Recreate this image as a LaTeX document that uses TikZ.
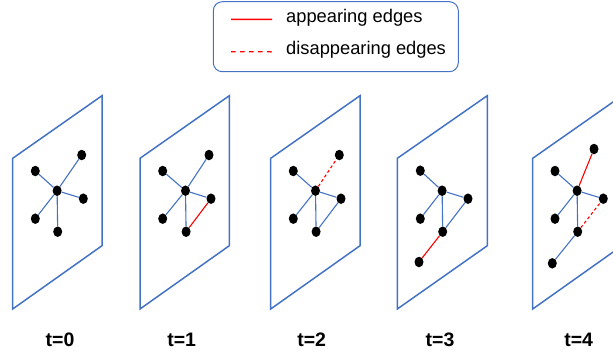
\documentclass[tikz,border=0pt]{standalone}
\usepackage{fontspec}
\setmainfont{Liberation Sans}
\usetikzlibrary{shapes.geometric}
\definecolor{pblue}{HTML}{4472C4}
\definecolor{ered}{HTML}{FF0000}
\tikzset{
  plane/.style={draw=pblue, line width=1.5pt, line join=miter},
  vtx/.style={ellipse, fill=black, inner sep=0pt, minimum width=9pt, minimum height=10.5pt},
  bedge/.style={draw=pblue, line width=1.1pt},
  redge/.style={draw=ered, line width=1.1pt},
  dedge/.style={draw=ered, line width=1.1pt, dash pattern=on 3pt off 2.5pt},
  legline/.style={draw=ered, line width=1.4pt},
  legdash/.style={draw=ered, line width=1.4pt, dash pattern=on 4.5pt off 4.5pt},
  tlabel/.style={font=\bfseries\fontsize{19.5}{22}\selectfont, inner sep=0pt},
  legtext/.style={font=\fontsize{18.3}{21}\selectfont, anchor=west, inner sep=0pt},
  legbox/.style={draw=pblue, line width=1pt, rounded corners=9pt}
}
\begin{document}
\begin{tikzpicture}[x=1pt, y=-1pt]
\useasboundingbox (0,0) rectangle (613,354);
\clip (0,0) rectangle (613,354);
% legend
\draw[legbox] (213.3,1.7) rectangle (458.3,71.7);
\coordinate (l1a) at (231,19.3); \coordinate (l1b) at (272,19.4);
\coordinate (l2a) at (231,51.7); \coordinate (l2b) at (272,51.8);
\draw[legline] (l1a) -- (l1b);
\draw[legdash] (l2a) -- (l2b);
\node[legtext] (lt1) at (286,18) {appearing edges};
\node[legtext] (lt2) at (286,50) {disappearing edges};
% planes
\draw[plane] (12.7,158.3) -- (102,95.7) -- (102,245.7) -- (12.7,309) -- cycle;
\draw[plane] (140,158.3) -- (229.3,95.7) -- (229.3,245.7) -- (140,309) -- cycle;
\draw[plane] (270.7,158.3) -- (360,95.7) -- (360,245.7) -- (270.7,309) -- cycle;
\draw[plane] (397.3,158.3) -- (487.3,95.7) -- (487.3,245.7) -- (397.3,309) -- cycle;
\draw[plane] (532.7,158.3) -- (622,95.7) -- (622,245.7) -- (532.7,309) -- cycle;
% t=0
\node[vtx] (a1) at (35.3,171) {};
\node[vtx] (b1) at (81.7,155) {};
\node[vtx] (c1) at (57.1,190.7) {};
\node[vtx] (d1) at (83.3,198.7) {};
\node[vtx] (e1) at (35.3,218.7) {};
\node[vtx] (f1) at (57.7,231.7) {};
\draw[bedge] (c1) -- (a1); \draw[bedge] (c1) -- (b1); \draw[bedge] (c1) -- (d1);
\draw[bedge] (c1) -- (e1); \draw[bedge] (c1) -- (f1);
% t=1
\node[vtx] (a2) at (162.7,171) {};
\node[vtx] (b2) at (209,155) {};
\node[vtx] (c2) at (185.5,190.7) {};
\node[vtx] (d2) at (211,198.7) {};
\node[vtx] (e2) at (162.7,218.7) {};
\node[vtx] (f2) at (186.1,231.7) {};
\draw[bedge] (c2) -- (a2); \draw[bedge] (c2) -- (b2); \draw[bedge] (c2) -- (d2);
\draw[bedge] (c2) -- (e2); \draw[bedge] (c2) -- (f2);
\draw[redge] (f2) -- (d2);
% t=2
\node[vtx] (a3) at (293.3,171) {};
\node[vtx] (b3) at (339.3,155) {};
\node[vtx] (c3) at (315.5,190.7) {};
\node[vtx] (d3) at (341,198.7) {};
\node[vtx] (e3) at (293.3,218.7) {};
\node[vtx] (f3) at (316.1,231.7) {};
\draw[bedge] (c3) -- (a3); \draw[bedge] (c3) -- (d3);
\draw[bedge] (c3) -- (e3); \draw[bedge] (c3) -- (f3); \draw[bedge] (f3) -- (d3);
\draw[dedge] (c3) -- (b3);
% t=3
\node[vtx] (a4) at (420.3,170.7) {};
\node[vtx] (c4) at (442.1,190.7) {};
\node[vtx] (d4) at (468,198.7) {};
\node[vtx] (e4) at (420.3,218.7) {};
\node[vtx] (f4) at (442.7,231.7) {};
\node[vtx] (g4) at (419,262) {};
\draw[bedge] (c4) -- (a4); \draw[bedge] (c4) -- (d4);
\draw[bedge] (c4) -- (e4); \draw[bedge] (c4) -- (f4); \draw[bedge] (f4) -- (d4);
\draw[redge] (f4) -- (g4);
% t=4
\node[vtx] (a5) at (555,171) {};
\node[vtx] (b5) at (594,149) {};
\node[vtx] (c5) at (577.1,190.7) {};
\node[vtx] (d5) at (603.3,198.7) {};
\node[vtx] (e5) at (555,218.7) {};
\node[vtx] (f5) at (577.7,231.7) {};
\node[vtx] (g5) at (552.3,263.3) {};
\draw[bedge] (c5) -- (a5); \draw[bedge] (c5) -- (d5);
\draw[bedge] (c5) -- (e5); \draw[bedge] (c5) -- (f5); \draw[bedge] (f5) -- (g5);
\draw[redge] (c5) -- (b5);
\draw[dedge] (f5) -- (d5);
% labels
\node[tlabel] (t0) at (60,340) {t=0};
\node[tlabel] (t1) at (181.7,340) {t=1};
\node[tlabel] (t2) at (311.7,340) {t=2};
\node[tlabel] (t3) at (440,340) {t=3};
\node[tlabel] (t4) at (578.7,340) {t=4};
\end{tikzpicture}
\end{document}
